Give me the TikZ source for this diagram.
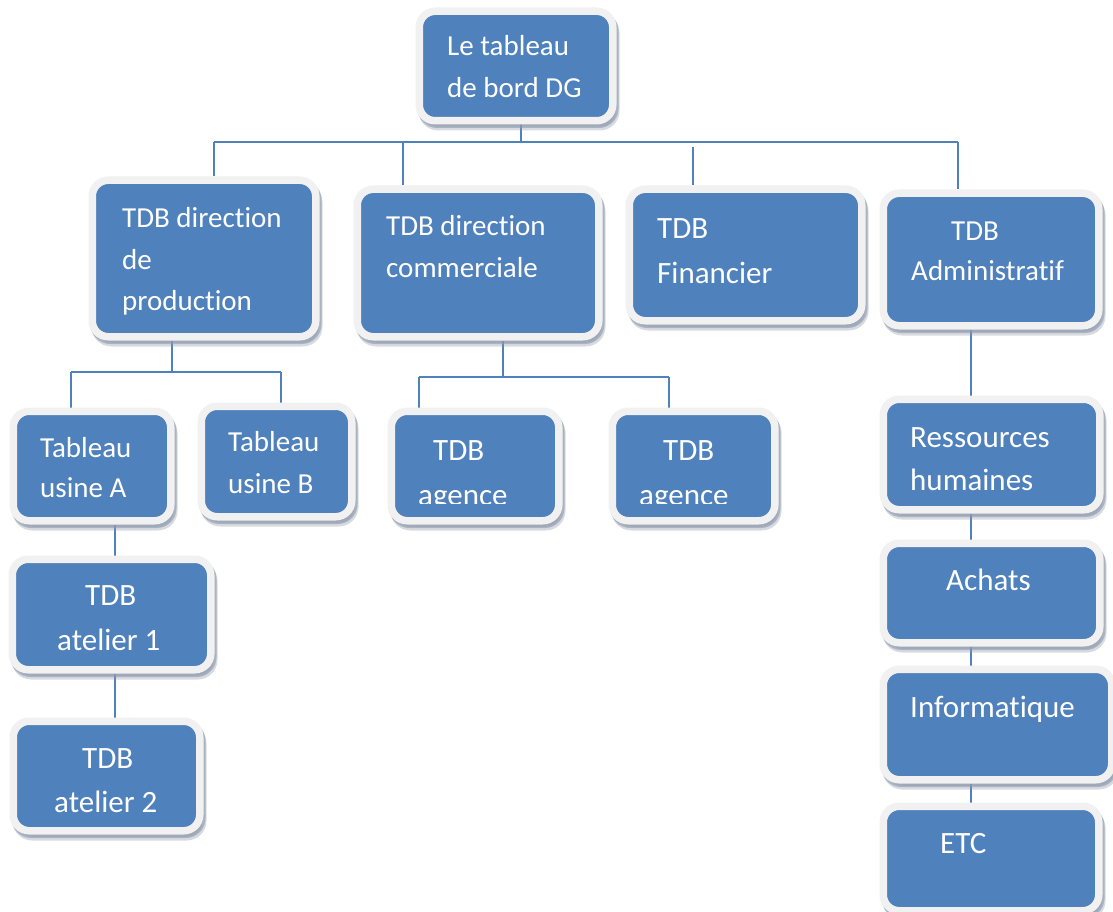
\documentclass[tikz,border=0pt]{standalone}
\usepackage{fontspec}
\setmainfont{Carlito}[Ligatures=NoCommon]
\usetikzlibrary{shadows}

\definecolor{boxblue}{HTML}{4F81BD}
\definecolor{rimgray}{HTML}{F1F1F1}
\definecolor{shadowc}{HTML}{8D99AB}

\pgfdeclarelayer{background}
\pgfsetlayers{background,main}

\tikzset{
  tdb/.style={
    rectangle, inner sep=0pt, fill=boxblue, draw=rimgray,
    line width=7.5pt, rounded corners=16pt,
    general shadow={fill=shadowc, draw=shadowc, line width=7.5pt,
      opacity=.35, shadow xshift=3pt, shadow yshift=-6pt},
    general shadow={fill=shadowc, draw=shadowc, line width=7.5pt,
      opacity=.6, shadow xshift=2pt, shadow yshift=-3.5pt}},
  lbl/.style={anchor=base west, inner sep=0pt, text=white,
    font=\fontsize{29}{35}\selectfont},
  lblb/.style={lbl, font=\fontsize{31}{37}\selectfont},
  conn/.style={draw=boxblue, line width=2pt}
}

% box given by the corners of its blue face: name, left, top, right, bottom
\newcommand\tdbbox[5]{%
  \node[tdb, minimum width={#4-#2+7.5}, minimum height={#5-#3+7.5}]
    (#1) at ({(#2+#4)/2},{(#3+#5)/2}) {};}

\begin{document}
\begin{tikzpicture}[x=1pt,y=-1pt]
\useasboundingbox (0,0) rectangle (1113,912);

% ---- boxes ----
\tdbbox{dg}{423}{15}{609}{117}
\tdbbox{prod}{96}{184}{312}{333}
\tdbbox{comm}{361}{193}{595}{333}
\tdbbox{fin}{633}{193}{858}{317}
\tdbbox{adm}{887}{197}{1095}{322}
\tdbbox{ua}{17}{415}{167}{517}
\tdbbox{ub}{205}{410}{348}{513}
\tdbbox{ag1}{395}{415}{555}{517}
\tdbbox{ag2}{616}{415}{771}{517}
\tdbbox{at1}{16}{563}{207}{666}
\tdbbox{at2}{17}{725}{196}{827}
\tdbbox{rh}{887}{403}{1096}{506}
\tdbbox{ach}{887}{547}{1096}{639}
\tdbbox{inf}{887}{673}{1108}{776}
\tdbbox{etc}{887}{810}{1095}{907}

% ---- labels ----
\node[lbl] (dg-a) at (447,56) {Le tableau};
\node[lbl] (dg-b) at (447,98) {de bord DG};

\node[lbl] (prod-a) at (122,227) {TDB direction};
\node[lbl] (prod-b) at (122,269) {de};
\node[lbl] (prod-c) at (122,310) {production};

\node[lbl] (comm-a) at (386,235) {TDB direction};
\node[lbl] (comm-b) at (386,277) {commerciale};

\node[lblb] (fin-a) at (657,238) {TDB};
\node[lblb] (fin-b) at (657,283) {Financier};

\node[lbl] (adm-a) at (951,240) {TDB};
\node[lbl] (adm-b) at (911,280) {Administratif};

\node[lbl] (ua-a) at (40,457) {Tableau};
\node[lbl] (ua-b) at (40,497) {usine A};
\node[lbl] (ub-a) at (228,451) {Tableau};
\node[lbl] (ub-b) at (228,493) {usine B};

\begin{scope}
  \clip (380,400) rectangle (790,503.5);
  \node[lblb] (ag1-a) at (433,460) {TDB};
  \node[lblb] (ag1-b) at (418,505) {agence};
  \node[lblb] (ag2-a) at (663,460) {TDB};
  \node[lblb] (ag2-b) at (639,505) {agence};
\end{scope}

\node[lblb] (at1-a) at (85,605) {TDB};
\node[lblb] (at1-b) at (57,650) {atelier 1};
\node[lblb] (at2-a) at (82,768) {TDB};
\node[lblb] (at2-b) at (54,812) {atelier 2};

\node[lblb] (rh-a) at (910,447) {Ressources};
\node[lblb] (rh-b) at (910,490) {humaines};
\node[lblb] (ach-a) at (946,590) {Achats};
\node[lblb] (inf-a) at (910,717) {Informatique};
\node[lblb] (etc-a) at (940,853) {ETC};

% ---- connectors ----
\coordinate (b0) at (521,142);
\coordinate (bL) at (214,142);
\coordinate (bC) at (403,142);
\coordinate (bF) at (693,147);
\coordinate (bR) at (958,142);

\coordinate (p0) at (172,372);
\coordinate (pL) at (71,372);
\coordinate (pR) at (281,372);
\coordinate (pA) at (115,540);

\coordinate (c0) at (503,377);
\coordinate (cL) at (419,377);
\coordinate (cR) at (669,377);

\coordinate (r0) at (971,360);

\begin{pgfonlayer}{background}
  \fill[white] (0,0) rectangle (1113,912);

  \draw[conn] (dg.south -| b0) -- (b0);
  \draw[conn] (bL) -- (bR);
  \draw[conn] (bL) -- (prod.north -| bL);
  \draw[conn] (bC) -- (comm.north -| bC);
  \draw[conn] (bF) -- (fin.north -| bF);
  \draw[conn] (bR) -- (adm.north -| bR);

  \draw[conn] (prod.south -| p0) -- (p0);
  \draw[conn] (pL) -- (pR);
  \draw[conn] (pL) -- (ua.north -| pL);
  \draw[conn] (pR) -- (ub.north -| pR);
  \draw[conn] (ua.south -| pA) -- (at1.north -| pA);
  \draw[conn] (at1.south -| pA) -- (at2.north -| pA);

  \draw[conn] (comm.south -| c0) -- (c0);
  \draw[conn] (cL) -- (cR);
  \draw[conn] (cL) -- (ag1.north -| cL);
  \draw[conn] (cR) -- (ag2.north -| cR);

  \draw[conn] (adm.south -| r0) -- (rh.north -| r0);
  \draw[conn] (rh.south -| r0) -- (ach.north -| r0);
  \draw[conn] (ach.south -| r0) -- (inf.north -| r0);
  \draw[conn] (inf.south -| r0) -- (etc.north -| r0);
\end{pgfonlayer}
\end{tikzpicture}
\end{document}
